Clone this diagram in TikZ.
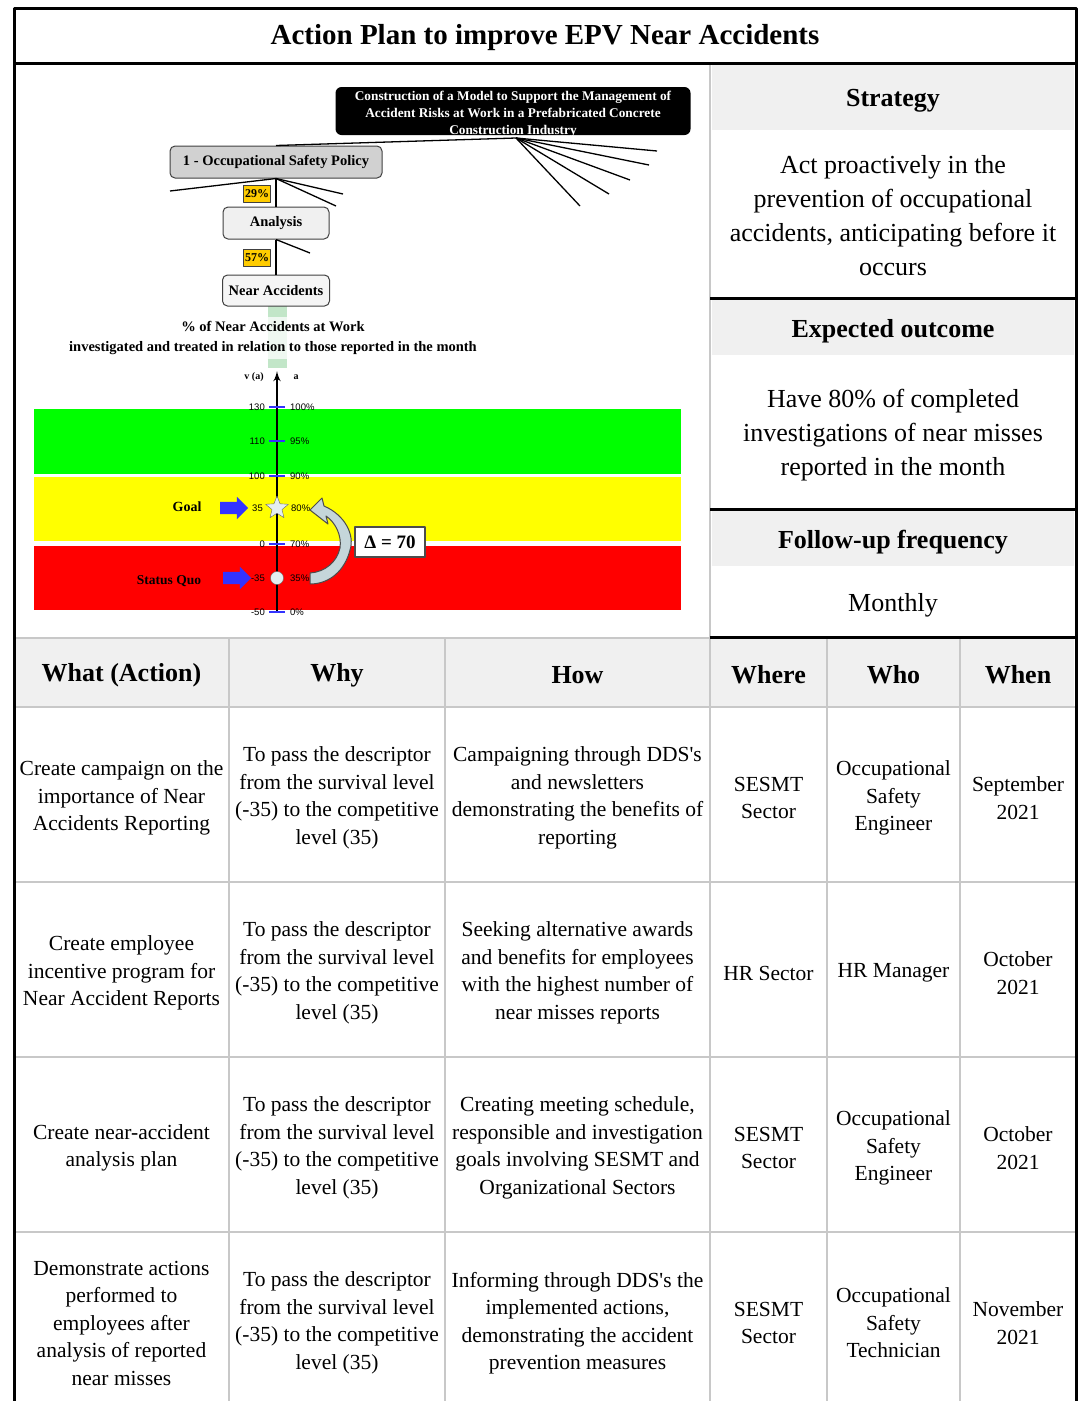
\documentclass[tikz,border=0pt]{standalone}
\usepackage{fontspec}
\setmainfont{Liberation Serif}
\newfontfamily\scalefont{Liberation Sans}
\usetikzlibrary{arrows,shapes.geometric,shapes.arrows}

\definecolor{hdrgray}{HTML}{F0F0F0}
\definecolor{gridgray}{HTML}{C8C8C8}
\definecolor{pctyellow}{HTML}{FFCC00}
\definecolor{tickblue}{HTML}{3333FF}
\definecolor{bandgreen}{HTML}{00FF00}
\definecolor{bandyellow}{HTML}{FFFF00}
\definecolor{bandred}{HTML}{FF0000}
\definecolor{markfill}{HTML}{E4EEF0}
\definecolor{curvefill}{HTML}{C5D6DA}
\definecolor{stripgreen}{HTML}{C2E6C8}

\tikzset{
  treebox/.style={draw=black!75, rounded corners=5pt, line width=1pt, font=\bfseries\fontsize{14.5}{16}\selectfont, inner sep=0pt},
  pctbox/.style={draw=black!75, fill=pctyellow, line width=0.8pt, font=\bfseries\fontsize{12}{13}\selectfont, inner sep=0pt, minimum width=27pt, minimum height=17pt},
  panelhead/.style={font=\bfseries\fontsize{26}{30}\selectfont},
  paneltext/.style={align=center, font=\fontsize{26}{34}\selectfont},
  colhead/.style={font=\bfseries\fontsize{26}{30}\selectfont},
  cell/.style={align=center, font=\fontsize{21.5}{27.5}\selectfont},
  scalelbl/.style={font=\scalefont\fontsize{9.5}{10}\selectfont, inner sep=1pt},
  bluearrow/.style={single arrow, fill=tickblue, minimum height=28pt, minimum width=22pt, single arrow head extend=5pt, inner xsep=0pt, inner ysep=6pt},
  treeline/.style={line width=1.3pt},
}

\begin{document}
\begin{tikzpicture}[x=1pt,y=-1pt,line join=round]
\useasboundingbox (0,0) rectangle (1080,1401);

% grey header fills
\fill[hdrgray] (712,65) rectangle (1074,130);
\fill[hdrgray] (712,300) rectangle (1074,355);
\fill[hdrgray] (712,511) rectangle (1074,566);
\fill[hdrgray] (16,639) rectangle (1074,707);

% table grid
\foreach \x in {229,445,710,827,960} \draw[gridgray, line width=2.5pt] (\x,638) -- (\x,1401);
\foreach \y in {638,707,882,1057,1232} \draw[gridgray, line width=2.5pt] (14,\y) -- (1076,\y);
\draw[gridgray, line width=2.5pt] (710,63) -- (710,638);

% frame
\draw[line width=3pt] (14,1401) -- (14,8) -- (1076,8) -- (1076,1401);
\draw[line width=3pt] (14,63) -- (1076,63);
\foreach \y in {298,509,637} \draw[line width=3pt] (710,\y) -- (1076,\y);

\node[font=\bfseries\fontsize{29}{32}\selectfont] (title) at (545,38) {Action Plan to improve EPV Near Accidents};

% right panel
\node[panelhead] (strathead) at (893,101) {Strategy};
\node[paneltext] (strat) at (893,216) {Act proactively in the\\prevention of occupational\\accidents, anticipating before it\\occurs};
\node[panelhead] (outhead) at (893,331) {Expected outcome};
\node[paneltext] (outcome) at (893,435) {Have 80\% of completed\\investigations of near misses\\reported in the month};
\node[panelhead] (freqhead) at (893,542) {Follow-up frequency};
\node[paneltext] (freq) at (893,605) {Monthly};

% scale bands
\fill[bandgreen] (34,409) rectangle (681,474);
\fill[bandyellow] (34,477) rectangle (681,541);
\fill[bandred] (34,546) rectangle (681,610);

\fill[stripgreen] (268,306) rectangle (287,368);
\node[fill=white, fill opacity=0.75, text opacity=1, align=center, font=\bfseries\fontsize{14.5}{20}\selectfont, inner sep=4pt] (scaletitle) at (273,338) {\% of Near Accidents at Work\\investigated and treated in relation to those reported in the month};

% tree
\node[fill=black, rounded corners=6pt, minimum width=355pt, minimum height=48pt, inner sep=0pt] (model) at (513,111) {};
\node[text=white, align=center, font=\bfseries\fontsize{13.3}{17}\selectfont, inner sep=0pt] (modeltext) at (513,114) {Construction of a Model to Support the Management of\\Accident Risks at Work in a Prefabricated Concrete\\Construction Industry};
\coordinate (hub) at (516,138);
\node[treebox, fill=black!18, minimum width=212pt, minimum height=32pt] (policy) at (276,162) {1 - Occupational Safety Policy};
\node[treebox, fill=hdrgray, minimum width=106pt, minimum height=32pt] (analysis) at (276,223) {Analysis};
\node[treebox, fill=black!4, minimum width=107pt, minimum height=31pt] (near) at (276,290.5) {Near Accidents};

\draw[treeline] (hub) -- (policy.north);
\foreach \x/\y [count=\i] in {657/151,649/165,630/180,609/194,580/206} {
  \coordinate (fan\i) at (\x,\y);
  \draw[treeline] (hub) -- (fan\i);
}
\foreach \x/\y [count=\i] in {170/191,343/194,336/206} {
  \coordinate (pol\i) at (\x,\y);
  \draw[treeline] (policy.south) -- (pol\i);
}
\coordinate (ana1) at (310,253);
\draw[treeline] (analysis.south) -- (ana1);
\draw[treeline] (policy.south) -- (analysis.north);
\draw[treeline] (analysis.south) -- (near.north);
\node[pctbox] (p29) at (257,194) {29\%};
\node[pctbox] (p57) at (257,258) {57\%};

% axis
\coordinate (axbot) at (277,612);
\coordinate (axtop) at (277,371);
\draw[->, >=latex', line width=2.5pt] (axbot) -- (axtop);
\node[font=\bfseries\fontsize{10}{11}\selectfont] (vlbl) at (254,377) {v (a)};
\node[font=\bfseries\fontsize{10}{11}\selectfont] (albl) at (296,377) {a};
\foreach \y/\v/\p in {407/130/100, 441/110/95, 476/100/90, 544/0/70, 612/-50/0} {
  \draw[tickblue, line width=2.5pt] (269,\y) -- (285,\y);
  \node[scalelbl, anchor=east] (v\p) at (266,\y) {\v};
  \node[scalelbl, anchor=west] (a\p) at (289,\y) {\p\%};
}
\node[scalelbl, anchor=east] (v80) at (264,508) {35};
\node[scalelbl, anchor=west] (a80) at (290,508) {80\%};
\node[scalelbl, anchor=east] (v35) at (266,578) {-35};
\node[scalelbl, anchor=west] (a35) at (289,578) {35\%};
\node[star, star points=5, star point ratio=2.3, draw=black!60, fill=markfill, minimum size=24pt, inner sep=0pt] (goalstar) at (277,508) {};
\node[circle, draw=black!60, fill=markfill, minimum size=13pt, inner sep=0pt] (sqdot) at (277,578) {};

\node[font=\bfseries\fontsize{14}{16}\selectfont] (goal) at (187,507) {Goal};
\node[bluearrow] (goalarr) at (231,508) {};
\node[font=\bfseries\fontsize{13.5}{16}\selectfont] (sq) at (169,581) {Status Quo};
\node[bluearrow] (sqarr) at (234,578) {};

% curved arrow from status quo up to goal
\filldraw[fill=curvefill, draw=black!70, line width=1pt]
  (310,510) -- (322,498) -- (324,506)
  .. controls (345,515) and (355,535) .. (350,550)
  .. controls (345,570) and (330,584) .. (310,584)
  -- (310,573)
  .. controls (325,572) and (337,562) .. (340,548)
  .. controls (342,535) and (335,522) .. (326,516)
  -- (328,524) -- cycle;
\node[draw=black!70, fill=white, line width=1.2pt, minimum width=70pt, minimum height=30pt, font=\bfseries\fontsize{19}{20}\selectfont] (delta) at (390,542) {Δ = 70};

% table
\foreach \x/\t [count=\i] in {121.5/What (Action), 337/Why, 577.5/How, 768.5/Where, 893.5/Who, 1018/When}
  \node[colhead] (head\i) at (\x,675) {\t};
\foreach \y [count=\i] in {798,973,1148,1323}
  \node[cell] (why\i) at (337,\y) {To pass the descriptor\\from the survival level\\(-35) to the competitive\\level (35)};

\node[cell] (what1) at (121.5,798) {Create campaign on the\\importance of Near\\Accidents Reporting};
\node[cell] (how1) at (577.5,798) {Campaigning through DDS\textquotesingle s\\and newsletters\\demonstrating the benefits of\\reporting};
\node[cell] (where1) at (768.5,798) {SESMT\\Sector};
\node[cell] (who1) at (893.5,798) {Occupational\\Safety\\Engineer};
\node[cell] (when1) at (1018,798) {September\\2021};

\node[cell] (what2) at (121.5,973) {Create employee\\incentive program for\\Near Accident Reports};
\node[cell] (how2) at (577.5,973) {Seeking alternative awards\\and benefits for employees\\with the highest number of\\near misses reports};
\node[cell] (where2) at (768.5,973) {HR Sector};
\node[cell] (who2) at (893.5,973) {HR Manager};
\node[cell] (when2) at (1018,973) {October\\2021};

\node[cell] (what3) at (121.5,1148) {Create near-accident\\analysis plan};
\node[cell] (how3) at (577.5,1148) {Creating meeting schedule,\\responsible and investigation\\goals involving SESMT and\\Organizational Sectors};
\node[cell] (where3) at (768.5,1148) {SESMT\\Sector};
\node[cell] (who3) at (893.5,1148) {Occupational\\Safety\\Engineer};
\node[cell] (when3) at (1018,1148) {October\\2021};

\node[cell] (what4) at (121.5,1323) {Demonstrate actions\\performed to\\employees after\\analysis of reported\\near misses};
\node[cell] (how4) at (577.5,1323) {Informing through DDS\textquotesingle s the\\implemented actions,\\demonstrating the accident\\prevention measures};
\node[cell] (where4) at (768.5,1323) {SESMT\\Sector};
\node[cell] (who4) at (893.5,1323) {Occupational\\Safety\\Technician};
\node[cell] (when4) at (1018,1323) {November\\2021};
\end{tikzpicture}
\end{document}
